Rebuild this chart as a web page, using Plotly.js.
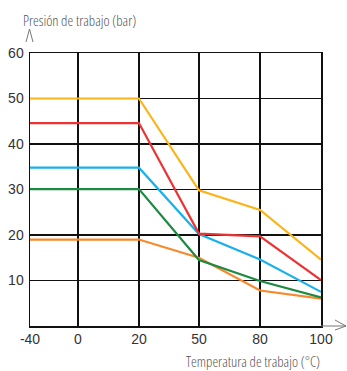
<!DOCTYPE html>
<html>
<head>
<meta charset="utf-8">
<script src="https://cdn.plot.ly/plotly-3.0.1.min.js"></script>
<style>
  html, body { margin: 0; padding: 0; background: #fff; }
  #chart { width: 347px; height: 371px; }
  text.annotation-text { font-stretch: 75% !important; }
</style>
</head>
<body>
<div id="chart"></div>
<script>
// ---- data ----
const temps = [-40, 20, 50, 80, 100];          // Temperatura de trabajo (°C)
const seriesYellow = [50, 50, 29.8, 25.5, 14.6];
const seriesRed    = [44.6, 44.6, 20.3, 19.7, 10.1];
const seriesBlue   = [34.8, 34.8, 20.2, 14.6, 7.5];
const seriesGreen  = [30.1, 30.1, 14.5, 9.9, 6.3];
const seriesOrange = [19, 19, 15, 7.8, 6];

const xTickTemps  = [-40, 0, 20, 50, 80, 100];
const xTickLabels = ['-40', '0', '20', '50', '80', '100'];
const yTickVals   = [10, 20, 30, 40, 50, 60];
const yTickLabels = ['10', '20', '30', '40', '50', '60'];

// ---- axis scale (the drawn temperature axis is not evenly spaced) ----
const axisSlots = [0, 0.789, 1.793, 2.78, 3.786, 4.789];
function toSlot(t) {
  for (let i = 0; i < xTickTemps.length - 1; i++) {
    const a = xTickTemps[i], b = xTickTemps[i + 1];
    if (t >= a && t <= b) {
      return axisSlots[i] + (t - a) / (b - a) * (axisSlots[i + 1] - axisSlots[i]);
    }
  }
  return t < xTickTemps[0] ? axisSlots[0] : axisSlots[axisSlots.length - 1];
}
const xs = temps.map(toSlot);

const colors = {
  yellow: '#FBB41A',
  red: '#EC3334',
  blue: '#1AB0EA',
  green: '#1C8A42',
  orange: '#F7892C'
};

function line(y, color) {
  return { x: xs, y: y, type: 'scatter', mode: 'lines',
           line: { color: color, width: 2.2 }, hoverinfo: 'skip', showlegend: false };
}

const data = [
  line(seriesOrange, colors.orange),
  line(seriesGreen, colors.green),
  line(seriesBlue, colors.blue),
  line(seriesRed, colors.red),
  line(seriesYellow, colors.yellow)
];

const tickFont = { family: '"Liberation Sans Narrow", "Liberation Sans", Arial, sans-serif', size: 14, color: '#333' };
const titleFont = { family: '"Open Sans", "Liberation Sans Narrow", sans-serif', size: 14.5, weight: 300, color: '#555' };

const L = 30, R = 26, T = 53, B = 45;
const W = 347, H = 371;
const pw = W - L - R, ph = H - T - B;
const px = v => (v - L) / pw;          // pixel -> paper x
const py = v => (H - B - v) / ph;      // pixel -> paper y

const layout = {
  width: W, height: H,
  margin: { l: L, r: R, t: T, b: B, pad: 0 },
  paper_bgcolor: '#fff', plot_bgcolor: '#fff',
  xaxis: {
    range: [axisSlots[0], axisSlots[axisSlots.length - 1]],
    tickmode: 'array', tickvals: xTickTemps.map(toSlot), ticktext: xTickLabels,
    showgrid: true, gridcolor: '#111', gridwidth: 1.3,
    showline: true, linecolor: '#111', linewidth: 1.5, mirror: true,
    zeroline: false, ticks: '', tickfont: tickFont, fixedrange: true,
    ticklabelstandoff: 0
  },
  yaxis: {
    range: [0, 60],
    tickmode: 'array', tickvals: yTickVals, ticktext: yTickLabels,
    showgrid: true, gridcolor: '#111', gridwidth: 1.3,
    showline: true, linecolor: '#111', linewidth: 1.5, mirror: true,
    zeroline: false, ticks: '', tickfont: tickFont, fixedrange: true,
    ticklabelstandoff: 2
  },
  annotations: [
    { text: 'Presión de trabajo (bar)', xref: 'paper', yref: 'paper',
      x: px(22), y: py(21), xanchor: 'left', yanchor: 'middle',
      showarrow: false, font: titleFont, borderpad: 0 },
    { text: 'Temperatura de trabajo (°C)', xref: 'paper', yref: 'paper',
      x: px(321), y: py(361), xanchor: 'right', yanchor: 'middle',
      showarrow: false, font: titleFont, borderpad: 0 }
  ],
  shapes: [
    { type: 'path', xref: 'paper', yref: 'paper',
      path: `M ${px(26)},${py(42)} L ${px(29.5)},${py(29)} L ${px(33)},${py(42)}`,
      line: { color: '#777', width: 1 } },
    { type: 'line', xref: 'paper', yref: 'paper',
      x0: 1, y0: 0, x1: px(346), y1: 0,
      line: { color: '#777', width: 1 } },
    { type: 'path', xref: 'paper', yref: 'paper',
      path: `M ${px(335)},${py(320)} L ${px(346)},${py(326)} L ${px(335)},${py(330)}`,
      line: { color: '#777', width: 1 } }
  ]
};

Plotly.newPlot('chart', data, layout, { displayModeBar: false, staticPlot: true });
</script>
</body>
</html>
